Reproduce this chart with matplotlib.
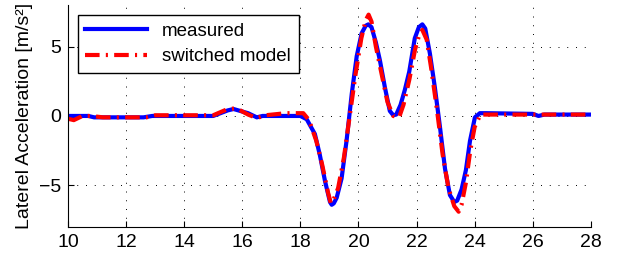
import matplotlib
matplotlib.use("Agg")
import matplotlib.pyplot as plt

# measured lateral acceleration
t_meas = [10, 10.7, 10.9, 12.6, 12.9, 15.0, 15.5, 15.7, 16.2, 16.5, 16.7, 18.0,
          18.22, 18.5, 18.67, 18.85, 19.02, 19.08, 19.15, 19.25, 19.42, 19.59,
          19.77, 19.94, 20.11, 20.25, 20.34, 20.45, 20.6, 20.74, 20.91, 21.08,
          21.2, 21.3, 21.45, 21.6, 21.75, 21.94, 22.08, 22.2, 22.3, 22.46,
          22.63, 22.81, 22.98, 23.15, 23.3, 23.4, 23.55, 23.7, 23.84, 24.01,
          24.18, 24.4, 26.0, 26.2, 26.4, 28]
a_meas = [0, 0, -0.1, -0.1, 0, 0, 0.4, 0.5, 0.2, -0.1, 0, 0,
          -0.24, -1.3, -2.8, -4.7, -6.2, -6.4, -6.3, -5.9, -4.5, -1.8,
          1.6, 4.3, 5.96, 6.5, 6.6, 6.4, 5.3, 4.0, 2.07, 0.36,
          0.05, 0.1, 0.8, 1.9, 3.2, 5.6, 6.4, 6.6, 6.3, 4.5,
          2.07, -0.85, -3.8, -5.7, -6.2, -6.1, -5.3, -3.9, -1.8, -0.1,
          0.2, 0.2, 0.15, 0.0, 0.1, 0.1]

# switched model output
t_model = [10, 10.2, 10.5, 10.8, 11.2, 12.7, 13.0, 15.0, 15.5, 15.8, 16.2,
           16.5, 16.8, 17.5, 18.1, 18.3, 18.55, 18.75, 18.95, 19.05, 19.15,
           19.3, 19.5, 19.7, 19.9, 20.1, 20.25, 20.35, 20.45, 20.6, 20.8,
           21.0, 21.2, 21.4, 21.55, 21.75, 21.95, 22.1, 22.2, 22.35, 22.5,
           22.7, 22.9, 23.1, 23.3, 23.45, 23.55, 23.7, 23.85, 24.0, 24.2, 28]
a_model = [-0.2, -0.3, 0, 0, -0.1, -0.1, 0.05, 0.05, 0.5, 0.55, 0.1,
           -0.15, 0.05, 0.2, 0.2, -0.3, -1.8, -3.5, -5.5, -6.3, -6.0,
           -5.2, -3.0, 0.0, 3.0, 5.6, 6.9, 7.3, 6.8, 5.0, 3.0,
           1.0, 0.0, -0.1, 0.8, 2.6, 4.8, 5.9, 6.2, 5.5, 3.5,
           0.5, -2.8, -5.2, -6.5, -6.9, -6.4, -4.8, -2.5, -0.8, 0.1, 0.1]

x_ticks = [10, 12, 14, 16, 18, 20, 22, 24, 26, 28]
y_ticks = [-5, 0, 5]

plt.rcParams["font.family"] = ["Liberation Sans", "DejaVu Sans"]

fig = plt.figure(figsize=(6.18, 2.6), dpi=100)
ax = fig.add_axes([0.110, 0.127, 0.846, 0.854])

ax.plot(t_meas, a_meas, color="#0000ff", lw=3, label="measured")
ax.plot(t_model, a_model, color="#ff0000", lw=3,
        linestyle=(0, (3.5, 1.5, 0.5, 1.5)), label="switched model")

ax.set_xlim(10, 28)
ax.set_ylim(-8, 8)
ax.set_xticks(x_ticks)
ax.set_yticks(y_ticks)
ax.set_yticklabels(["\u22125", "0", "5"])
ax.tick_params(direction="in", labelsize=14, length=4, pad=5)

ax.grid(True, linestyle=(0, (1, 8)), color="black", lw=0.7)
ax.spines["top"].set_visible(False)
ax.spines["right"].set_visible(False)

ax.set_ylabel("Laterel Acceleration [m/s²]", fontsize=14, labelpad=4)

leg = ax.legend(loc="upper left", bbox_to_anchor=(0.019, 0.955),
                fontsize=13.5, handlelength=3.3, fancybox=False,
                framealpha=1, borderaxespad=0, labelspacing=0.45)
leg.get_frame().set_edgecolor("black")
leg.get_frame().set_linewidth(1.0)

plt.savefig("out.png", dpi=100)
plt.close()
